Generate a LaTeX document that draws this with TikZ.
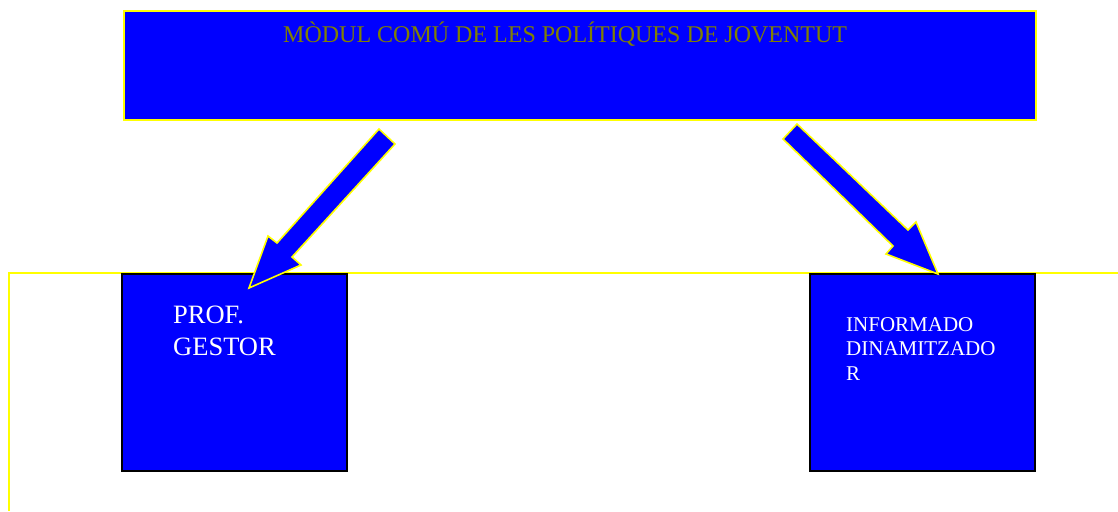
\documentclass[tikz,border=0pt]{standalone}
\usepackage{fontspec}
\setmainfont{Liberation Serif}
\definecolor{boxblue}{HTML}{0000FF}
\definecolor{olivetext}{HTML}{808000}
\definecolor{lineyellow}{HTML}{FFFF00}
\begin{document}
\begin{tikzpicture}[x=1pt,y=-1pt,
  topbox/.style={draw=lineyellow,line width=1.8pt,fill=boxblue},
  rolebox/.style={draw=black,line width=1.3pt,fill=boxblue},
  blockarrow/.style={draw=lineyellow,line width=1.6pt,fill=boxblue,line join=miter},
  guide/.style={draw=lineyellow,line width=1.8pt}]
\useasboundingbox (0,0) rectangle (1118,511);
% top module
\filldraw[topbox] (124,11) rectangle (1036,120);
\node[anchor=base west,inner sep=0pt,text=olivetext,font=\fontsize{24}{28}\selectfont] (title) at (283,43) {MÒDUL COMÚ DE LES POLÍTIQUES DE JOVENTUT};
% guide lines
\coordinate (gA) at (9,511);
\coordinate (gB) at (9,273);
\coordinate (gC) at (1118,273);
\draw[guide] (gA) -- (gB) -- (gC);
% role boxes
\filldraw[rolebox] (122,274) rectangle (347,471);
\filldraw[rolebox] (810,274) rectangle (1035,471);
\node[anchor=base west,inner sep=0pt,text=white,align=left,font=\fontsize{26.5}{32}\selectfont] (prof) at (173,355) {PROF.\\GESTOR};
\node[anchor=base west,inner sep=0pt,text=white,align=left,font=\fontsize{21}{24.5}\selectfont] (info) at (846,380) {INFORMADO\\DINAMITZADO\\R};
% block arrows
\filldraw[blockarrow] (379,129) -- (395,144) -- (292,257) -- (301,265) -- (249,288) -- (268,236) -- (277,243) -- cycle;
\filldraw[blockarrow] (797,124) -- (783,139) -- (893,246) -- (886,254) -- (938,274) -- (916,222) -- (908,230) -- cycle;
\end{tikzpicture}
\end{document}
